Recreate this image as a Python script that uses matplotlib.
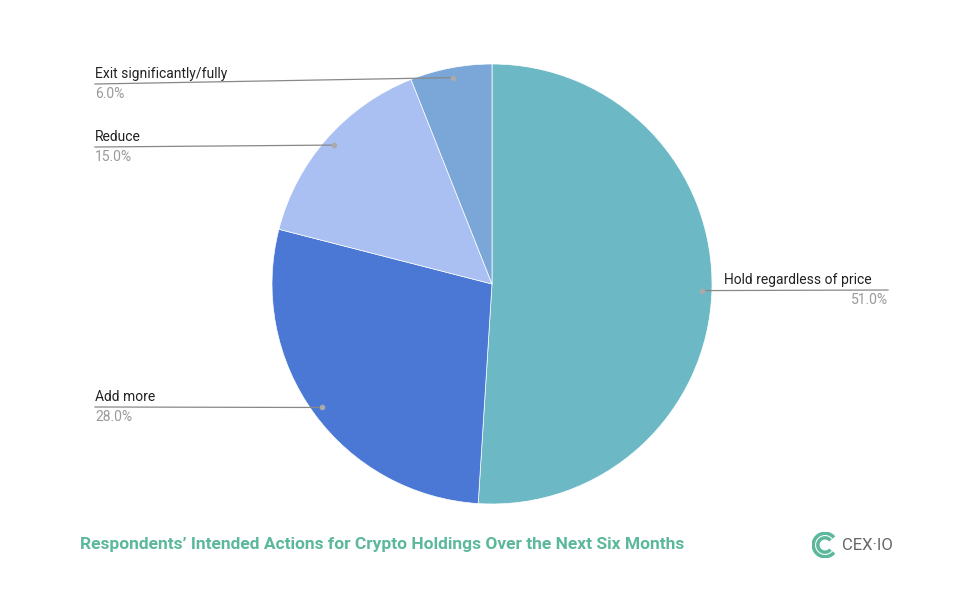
import numpy as np
import matplotlib.pyplot as plt
from matplotlib.patches import Arc

# chart data
labels = ['Hold regardless of price', 'Add more', 'Reduce', 'Exit significantly/fully']
values = [51.0, 28.0, 15.0, 6.0]
colors = ['#6cb9c5', '#4a78d4', '#aac0f2', '#7ba7d8']

W, H = 960, 597
fig = plt.figure(figsize=(W / 100, H / 100), dpi=100)
plt.rcParams['font.family'] = ['Roboto', 'DejaVu Sans']


def px(x, y):
    return x / W, 1 - y / H


cx, cy, r = 492, 284, 220
ax = fig.add_axes([(cx - r) / W, 1 - (cy + r) / H, 2 * r / W, 2 * r / H])
wedges, _ = ax.pie(values, colors=colors, startangle=90, counterclock=False,
                   wedgeprops=dict(edgecolor='white', linewidth=0.5))
ax.set_xlim(-1, 1)
ax.set_ylim(-1, 1)
ax.set_aspect('auto')
ax.axis('off')

# leader lines and labels
label_rows = {'Hold regardless of price': 290, 'Add more': 407, 'Reduce': 147,
              'Exit significantly/fully': 84}
for w, lab, val in zip(wedges, labels, values):
    mid = np.deg2rad((w.theta1 + w.theta2) / 2)
    dx = cx + 0.955 * r * np.cos(mid)
    dy = cy - 0.955 * r * np.sin(mid)
    row = label_rows[lab]
    if np.cos(mid) > 0:
        fig.text(*px(724, row - 3), lab, fontsize=10, color='#222222', ha='left', va='bottom')
        fig.text(*px(888, row + 3), f'{val:.1f}%', fontsize=10, color='#999999', ha='right', va='top')
        xs, ys = [dx, 888], [dy, row]
    else:
        fig.text(*px(95, row - 3), lab, fontsize=10, color='#222222', ha='left', va='bottom')
        fig.text(*px(95, row + 3), f'{val:.1f}%', fontsize=10, color='#999999', ha='left', va='top')
        xs, ys = [95, dx], [row, dy]
    fig.add_artist(plt.Line2D([xs[0] / W, xs[1] / W], [1 - ys[0] / H, 1 - ys[1] / H],
                              color='#888888', lw=0.9))
    fig.add_artist(plt.Line2D([dx / W], [1 - dy / H], marker='o', markersize=3,
                              color='#aaaaaa', lw=0))

# title
fig.text(*px(80, 545), "Respondents\u2019 Intended Actions for Crypto Holdings Over the Next Six Months",
         fontsize=12.5, fontweight='bold', color='#5cb89c', ha='left', va='center')

# logo
lax = fig.add_axes([812 / W, 1 - 558 / H, 26 / W, 26 / H])
lax.add_patch(Arc((0, 0), 1.8, 1.8, theta1=40, theta2=320, color='#5cb89c', lw=2.5))
lax.add_patch(Arc((0, 0), 1.1, 1.1, theta1=40, theta2=320, color='#5cb89c', lw=2.5))
lax.set_xlim(-1, 1)
lax.set_ylim(-1, 1)
lax.axis('off')
fig.text(*px(842, 545), 'CEX\u00b7IO', fontsize=12, color='#666666', ha='left', va='center')

fig.savefig('out.png', dpi=100, facecolor='white')
